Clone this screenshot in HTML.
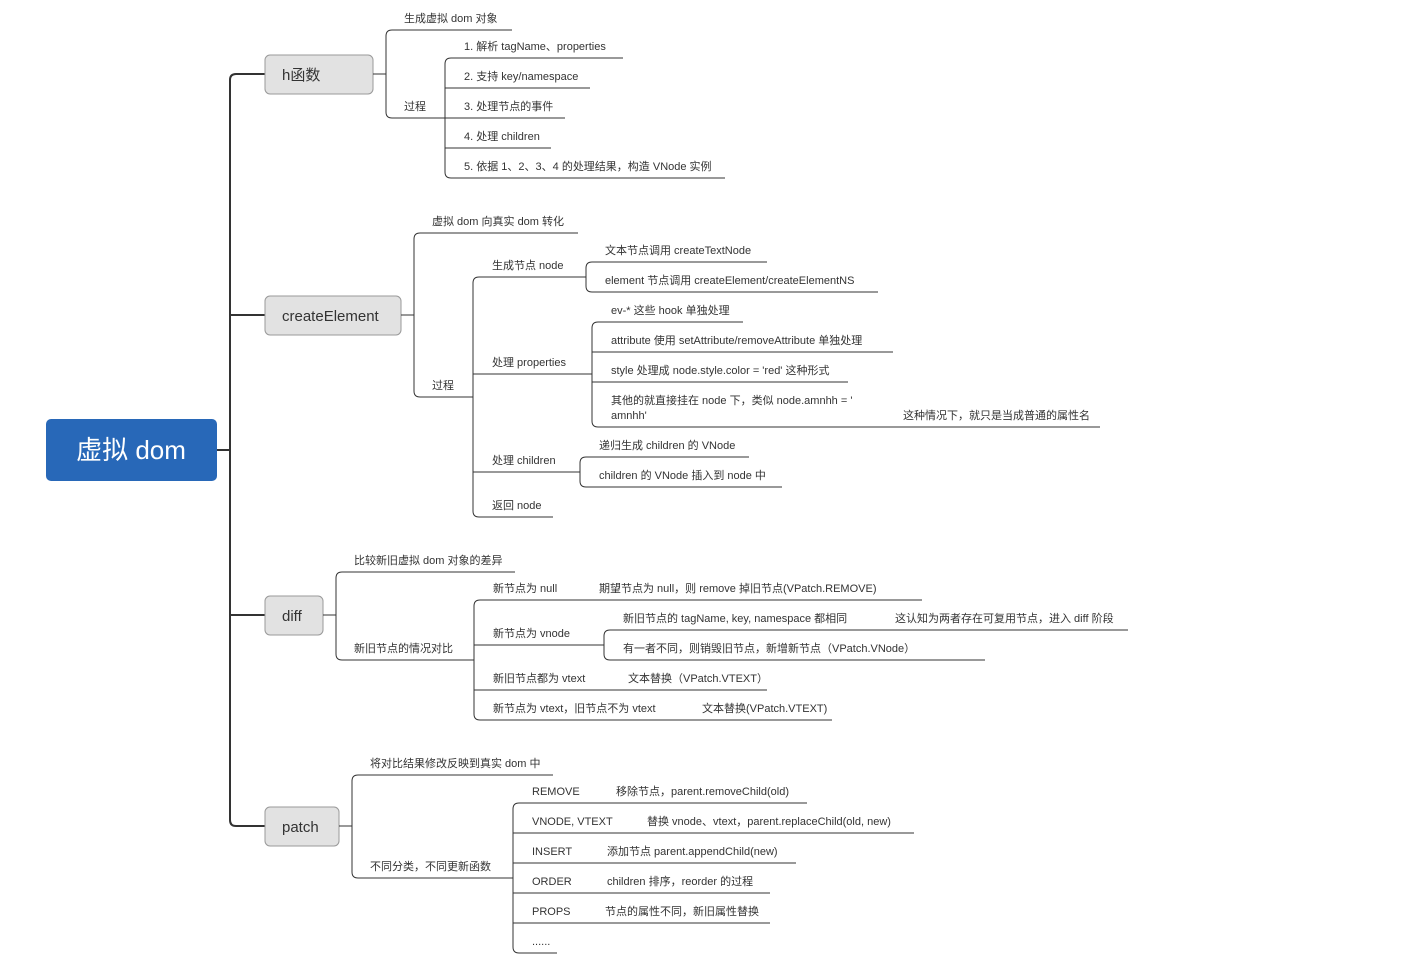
<!DOCTYPE html>
<html><head><meta charset="utf-8"><style>
body{margin:0;background:#fff;}
svg{display:block;}
text{font-family:"Liberation Sans","Noto Sans CJK SC",sans-serif;font-size:11px;fill:#333;}
.l1{font-size:15px;fill:#333;}
path,line{fill:none;stroke:#333;stroke-width:1;}
</style></head><body>
<svg width="1401" height="978" viewBox="0 0 1401 978" xmlns="http://www.w3.org/2000/svg">
<!-- trunk -->
<path d="M217 450 L230 450" style="stroke-width:2"/>
<path d="M265 74 L236 74 Q230 74 230 80 L230 820 Q230 826 236 826 L265 826 M230 315 L265 315 M230 615 L265 615" style="stroke-width:2"/>
<rect x="46" y="419" width="171" height="62" rx="5" fill="#2868b8"/>
<text x="131" y="459" text-anchor="middle" style="font-size:26px;fill:#fff">虚拟 dom</text>

<rect x="265" y="55" width="108" height="39" rx="5" fill="#e2e2e2" stroke="#999"/>
<text class="l1" x="282" y="80">h函数</text>
<rect x="265" y="296" width="136" height="39" rx="5" fill="#e2e2e2" stroke="#999"/>
<text class="l1" x="282" y="321">createElement</text>
<rect x="265" y="596" width="58" height="39" rx="5" fill="#e2e2e2" stroke="#999"/>
<text class="l1" x="282" y="621">diff</text>
<rect x="265" y="807" width="74" height="39" rx="5" fill="#e2e2e2" stroke="#999"/>
<text class="l1" x="282" y="832">patch</text>

<!-- h函数 -->
<path d="M373 74 L386 74 M392 30 Q386 30 386 36 L386 112 Q386 118 392 118 M392 30 L512 30 M392 118 L445 118"/>
<text x="404" y="22">生成虚拟 dom 对象</text>
<text x="404" y="110">过程</text>
<path d="M451 58 Q445 58 445 64 L445 172 Q445 178 451 178 M451 58 L623 58 M445 88 L590 88 M445 118 L565 118 M445 148 L551 148 M451 178 L725 178"/>
<text x="464" y="50">1. 解析 tagName、properties</text>
<text x="464" y="80">2. 支持 key/namespace</text>
<text x="464" y="110">3. 处理节点的事件</text>
<text x="464" y="140">4. 处理 children</text>
<text x="464" y="170">5. 依据 1、2、3、4 的处理结果，构造 VNode 实例</text>

<!-- createElement -->
<path d="M401 315 L414 315 M420 233 Q414 233 414 239 L414 391 Q414 397 420 397 M420 233 L578 233 M420 397 L473 397"/>
<text x="432" y="225">虚拟 dom 向真实 dom 转化</text>
<text x="432" y="389">过程</text>
<path d="M479 277 Q473 277 473 283 L473 511 Q473 517 479 517 M479 277 L586 277 M473 374 L592 374 M473 472 L580 472 M479 517 L553 517"/>
<text x="492" y="269">生成节点 node</text>
<text x="492" y="366">处理 properties</text>
<text x="492" y="464">处理 children</text>
<text x="492" y="509">返回 node</text>
<path d="M592 262 Q586 262 586 268 L586 286 Q586 292 592 292 M592 262 L767 262 M592 292 L878 292"/>
<text x="605" y="254">文本节点调用 createTextNode</text>
<text x="605" y="284">element 节点调用 createElement/createElementNS</text>
<path d="M598 322 Q592 322 592 328 L592 421 Q592 427 598 427 M598 322 L743 322 M592 352 L893 352 M592 382 L848 382 M598 427 L1100 427"/>
<text x="611" y="314">ev-* 这些 hook 单独处理</text>
<text x="611" y="344">attribute 使用 setAttribute/removeAttribute 单独处理</text>
<text x="611" y="374">style 处理成 node.style.color = 'red' 这种形式</text>
<text x="611" y="404">其他的就直接挂在 node 下，类似 node.amnhh = '</text>
<text x="611" y="419">amnhh'</text>
<text x="903" y="419">这种情况下，就只是当成普通的属性名</text>
<path d="M586 457 Q580 457 580 463 L580 481 Q580 487 586 487 M586 457 L749 457 M586 487 L782 487"/>
<text x="599" y="449">递归生成 children 的 VNode</text>
<text x="599" y="479">children 的 VNode 插入到 node 中</text>

<!-- diff -->
<path d="M323 615 L336 615 M342 572 Q336 572 336 578 L336 654 Q336 660 342 660 M342 572 L515 572 M342 660 L474 660"/>
<text x="354" y="564">比较新旧虚拟 dom 对象的差异</text>
<text x="354" y="652">新旧节点的情况对比</text>
<path d="M480 600 Q474 600 474 606 L474 714 Q474 720 480 720 M480 600 L922 600 M474 645 L604 645 M474 690 L767 690 M480 720 L832 720"/>
<text x="493" y="592">新节点为 null</text>
<text x="599" y="592">期望节点为 null，则 remove 掉旧节点(VPatch.REMOVE)</text>
<text x="493" y="637">新节点为 vnode</text>
<text x="493" y="682">新旧节点都为 vtext</text>
<text x="628" y="682">文本替换（VPatch.VTEXT）</text>
<text x="493" y="712">新节点为 vtext，旧节点不为 vtext</text>
<text x="702" y="712">文本替换(VPatch.VTEXT)</text>
<path d="M610 630 Q604 630 604 636 L604 654 Q604 660 610 660 M610 630 L1128 630 M610 660 L985 660"/>
<text x="623" y="622">新旧节点的 tagName, key, namespace 都相同</text>
<text x="895" y="622">这认知为两者存在可复用节点，进入 diff 阶段</text>
<text x="623" y="652">有一者不同，则销毁旧节点，新增新节点（VPatch.VNode）</text>

<!-- patch -->
<path d="M339 826 L352 826 M358 775 Q352 775 352 781 L352 872 Q352 878 358 878 M358 775 L553 775 M358 878 L513 878"/>
<text x="370" y="767">将对比结果修改反映到真实 dom 中</text>
<text x="370" y="870">不同分类，不同更新函数</text>
<path d="M519 803 Q513 803 513 809 L513 947 Q513 953 519 953 M519 803 L807 803 M513 833 L914 833 M513 863 L796 863 M513 893 L770 893 M513 923 L770 923 M519 953 L557 953"/>
<text x="532" y="795">REMOVE</text>
<text x="616" y="795">移除节点，parent.removeChild(old)</text>
<text x="532" y="825">VNODE, VTEXT</text>
<text x="647" y="825">替换 vnode、vtext，parent.replaceChild(old, new)</text>
<text x="532" y="855">INSERT</text>
<text x="607" y="855">添加节点 parent.appendChild(new)</text>
<text x="532" y="885">ORDER</text>
<text x="607" y="885">children 排序，reorder 的过程</text>
<text x="532" y="915">PROPS</text>
<text x="605" y="915">节点的属性不同，新旧属性替换</text>
<text x="532" y="945">......</text>
</svg>
</body></html>
